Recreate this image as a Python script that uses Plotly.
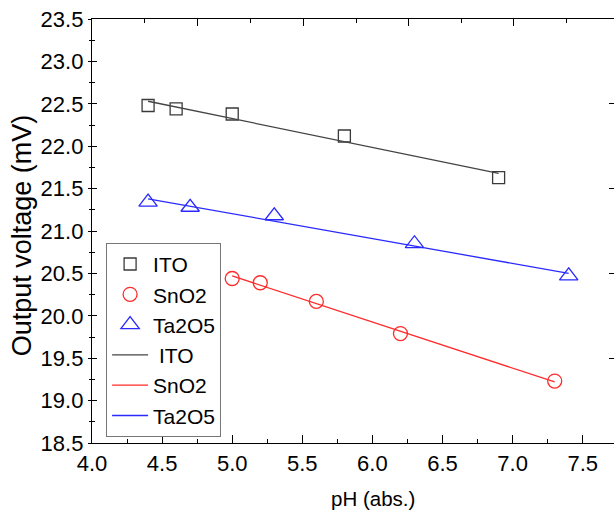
import plotly.graph_objects as go

# ---- data ----
ito_ph = [4.4, 4.6, 5.0, 5.8, 6.9]
ito_mv = [22.48, 22.44, 22.38, 22.12, 21.63]
sno2_ph = [5.0, 5.2, 5.6, 6.2, 7.3]
sno2_mv = [20.44, 20.39, 20.17, 19.79, 19.23]
ta2o5_ph = [4.4, 4.7, 5.3, 6.3, 7.4]
ta2o5_mv = [21.34, 21.28, 21.18, 20.85, 20.47]

# fitted lines (end points)
ito_fit_ph = [4.4, 6.9]
ito_fit_mv = [22.53, 21.68]
sno2_fit_ph = [5.0, 7.3]
sno2_fit_mv = [20.47, 19.22]
ta2o5_fit_ph = [4.4, 7.4]
ta2o5_fit_mv = [21.38, 20.50]

# tick positions of the top and right frame axes
top_major = [4.752, 5.506, 6.26, 7.008]
top_minor = [4.375, 5.129, 5.883, 6.637, 7.386]
right_ticks = [19.5, 20.5, 21.5, 22.5]

x_title = "pH (abs.)"
y_title = "Output voltage (mV)"

FONT = "Liberation Sans, Arial, sans-serif"
C_ITO = "#3a3a3a"
C_SNO2 = "#ff2a2a"
C_TA = "#2a2aff"

fig = go.Figure()
fig.add_trace(go.Scatter(x=ito_ph, y=ito_mv, mode="markers", name="ITO", legendgroup="m1",
                         marker=dict(symbol="square-open", size=12, color=C_ITO, line=dict(width=1.3))))
fig.add_trace(go.Scatter(x=sno2_ph, y=sno2_mv, mode="markers", name="SnO2", legendgroup="m2",
                         marker=dict(symbol="circle-open", size=14, color=C_SNO2, line=dict(width=1.3))))
fig.add_trace(go.Scatter(x=ta2o5_ph, y=ta2o5_mv, mode="markers", name="Ta2O5", legendgroup="m3",
                         marker=dict(symbol="triangle-up-open", size=16, color=C_TA, line=dict(width=1.3))))
fig.add_trace(go.Scatter(x=ito_fit_ph, y=ito_fit_mv, mode="lines", name="\u00a0ITO", legendgroup="l1",
                         line=dict(color="#444444", width=1.3)))
fig.add_trace(go.Scatter(x=sno2_fit_ph, y=sno2_fit_mv, mode="lines", name="SnO2", legendgroup="l2",
                         line=dict(color=C_SNO2, width=1.3)))
fig.add_trace(go.Scatter(x=ta2o5_fit_ph, y=ta2o5_fit_mv, mode="lines", name="Ta2O5", legendgroup="l3",
                         line=dict(color=C_TA, width=1.3)))

# invisible traces to activate the frame axes
fig.add_trace(go.Scatter(x=[4.0], y=[18.5], xaxis="x2", yaxis="y2", mode="markers",
                         marker=dict(opacity=0), showlegend=False, hoverinfo="skip"))
fig.add_trace(go.Scatter(x=[4.0], y=[18.5], xaxis="x", yaxis="y3", mode="markers",
                         marker=dict(opacity=0), showlegend=False, hoverinfo="skip"))

XR = [4.0, 7.723]
YR = [18.5, 23.5]

fig.update_layout(
    width=614, height=510,
    margin=dict(l=92, r=0, t=19, b=67, autoexpand=False),
    paper_bgcolor="white", plot_bgcolor="white",
    font=dict(family=FONT, size=20, color="black"),
    showlegend=True,
    legend=dict(x=0.027, y=0.472, xanchor="left", yanchor="top",
                bordercolor="#777777", borderwidth=1, bgcolor="white",
                font=dict(size=21), tracegroupgap=0, itemwidth=36),
    xaxis=dict(range=XR, dtick=0.5, tick0=4.0, tickformat=".1f", automargin=False,
               showline=True, linecolor="black", linewidth=1.3, mirror=False,
               ticks="inside", ticklen=8, tickwidth=1.2, tickcolor="black",
               minor=dict(dtick=0.25, tick0=4.0, ticks="inside", ticklen=4, tickcolor="black"),
               showgrid=False, zeroline=False,
               tickfont=dict(size=22)),
    yaxis=dict(range=YR, dtick=0.5, tick0=18.5, tickformat=".1f", automargin=False,
               showline=True, linecolor="black", linewidth=1.3,
               ticks="outside", ticklen=3, tickwidth=1.2, tickcolor="black",
               minor=dict(dtick=0.25, tick0=18.5, ticks="outside", ticklen=2, tickcolor="black"),
               showgrid=False, zeroline=False,
               tickfont=dict(size=22)),
    yaxis3=dict(range=YR, overlaying="y", side="left", showline=False,
                dtick=0.5, tick0=18.5, ticks="inside", ticklen=5, tickwidth=1.2,
                tickcolor="black", showticklabels=False,
                minor=dict(dtick=0.25, tick0=18.5, ticks="inside", ticklen=3, tickcolor="black"),
                showgrid=False, zeroline=False, automargin=False),
    xaxis2=dict(range=XR, overlaying="x", side="top", showline=True, linecolor="black",
                linewidth=1.3, tickmode="array", tickvals=top_major, ticks="inside",
                ticklen=7, tickwidth=1.2, tickcolor="black", showticklabels=False,
                minor=dict(tickmode="array", tickvals=top_minor, ticks="inside", ticklen=4,
                           tickcolor="black"),
                showgrid=False, zeroline=False, automargin=False),
    yaxis2=dict(range=YR, overlaying="y", side="right", showline=True, linecolor="black",
                linewidth=1.3, tickmode="array", tickvals=right_ticks, ticks="inside",
                ticklen=5, tickwidth=1.2, tickcolor="black", showticklabels=False,
                showgrid=False, zeroline=False, automargin=False),
    annotations=[
        dict(text=x_title, xref="paper", yref="paper", x=0.538, y=-0.132,
             xanchor="center", yanchor="middle", showarrow=False, font=dict(size=20.5)),
        dict(text=y_title, xref="paper", yref="paper", x=-0.134, y=0.49,
             xanchor="center", yanchor="middle", showarrow=False, textangle=-90,
             font=dict(size=27)),
    ],
)

# remove the browser's default 8px body margin so the figure sits at the window's corner
fig.write_html("out.html", config={"displayModeBar": False},
               post_script="document.body.style.margin='0px';")
